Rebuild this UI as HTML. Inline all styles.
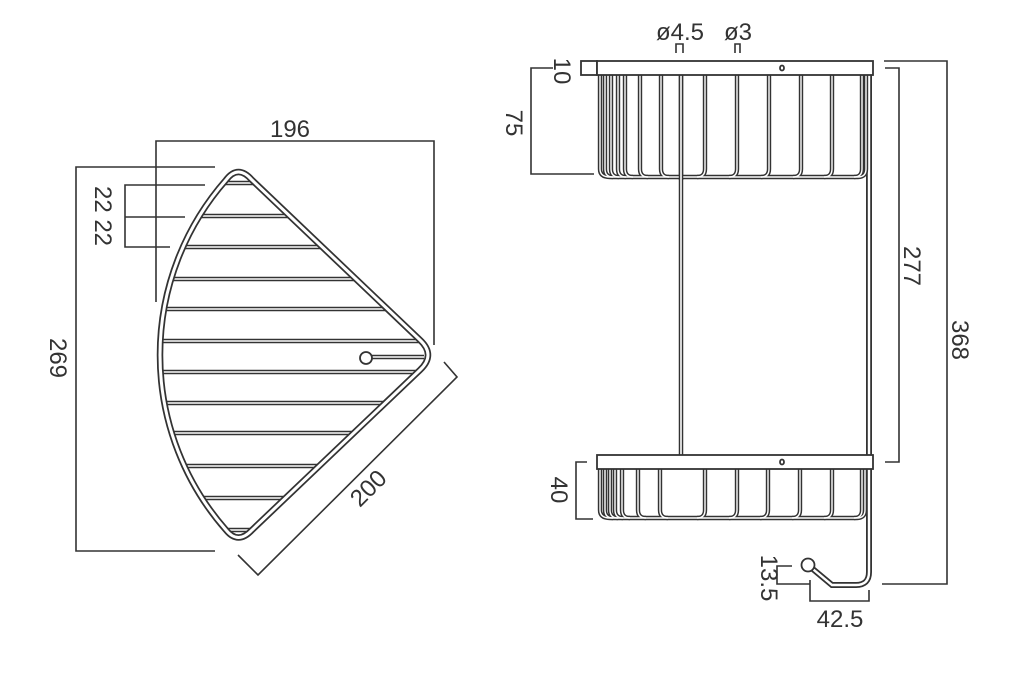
<!DOCTYPE html>
<html><head><meta charset="utf-8"><style>
html,body{margin:0;padding:0;background:#fff;}
svg{display:block;}
text{font-family:"Liberation Sans",sans-serif;font-size:24px;fill:#333;}
</style></head><body>
<svg width="1011" height="674" viewBox="0 0 1011 674" xmlns="http://www.w3.org/2000/svg">
<defs>
<clipPath id="cp"><path d="M226,180 Q238,164 252,180 L420,340 Q436,355 420,370 L252,530 Q238,545 226,530 A265 265 0 0 1 226,180 Z"/></clipPath>
</defs>
<g fill="none" stroke="#333" stroke-width="1.6">
<polyline points="156,302 156,141 434,141 434,345"/>
<polyline points="215,167 76,167 76,551 215,551"/>
<polyline points="205,185 125,185 125,247 170,247"/>
<line x1="125" y1="217" x2="185" y2="217"/>
<polyline points="444,362 457,377 258,575 238,555"/>
</g>
<text x="290" y="137" text-anchor="middle">196</text>
<text transform="translate(50,358) rotate(90)" text-anchor="middle">269</text>
<text transform="translate(95,216) rotate(90)" text-anchor="middle">22 22</text>
<text transform="translate(374,494) rotate(-45)" text-anchor="middle">200</text>

<g clip-path="url(#cp)">
<g stroke="#333" stroke-width="4.5">
<line x1="140" x2="450" y1="183" y2="183"/><line x1="140" x2="450" y1="216" y2="216"/>
<line x1="140" x2="450" y1="247" y2="247"/><line x1="140" x2="450" y1="279" y2="279"/>
<line x1="140" x2="450" y1="309" y2="309"/><line x1="140" x2="450" y1="341" y2="341"/>
<line x1="140" x2="450" y1="372" y2="372"/><line x1="140" x2="450" y1="403" y2="403"/>
<line x1="140" x2="450" y1="433" y2="433"/><line x1="140" x2="450" y1="466" y2="466"/>
<line x1="140" x2="450" y1="498" y2="498"/><line x1="140" x2="450" y1="530" y2="530"/>
</g>
<g stroke="#fff" stroke-width="1.6">
<line x1="140" x2="450" y1="183" y2="183"/><line x1="140" x2="450" y1="216" y2="216"/>
<line x1="140" x2="450" y1="247" y2="247"/><line x1="140" x2="450" y1="279" y2="279"/>
<line x1="140" x2="450" y1="309" y2="309"/><line x1="140" x2="450" y1="341" y2="341"/>
<line x1="140" x2="450" y1="372" y2="372"/><line x1="140" x2="450" y1="403" y2="403"/>
<line x1="140" x2="450" y1="433" y2="433"/><line x1="140" x2="450" y1="466" y2="466"/>
<line x1="140" x2="450" y1="498" y2="498"/><line x1="140" x2="450" y1="530" y2="530"/>
</g>
</g>
<path d="M226,180 Q238,164 252,180 L420,340 Q436,355 420,370 L252,530 Q238,545 226,530 A265 265 0 0 1 226,180 Z" fill="none" stroke="#333" stroke-width="6.5"/>
<path d="M226,180 Q238,164 252,180 L420,340 Q436,355 420,370 L252,530 Q238,545 226,530 A265 265 0 0 1 226,180 Z" fill="none" stroke="#fff" stroke-width="3"/>
<line x1="366" y1="357" x2="424" y2="357" stroke="#333" stroke-width="4.5"/>
<line x1="366" y1="357" x2="424" y2="357" stroke="#fff" stroke-width="1.6"/>
<circle cx="366" cy="358" r="6" fill="#fff" stroke="#333" stroke-width="1.8"/>

<g fill="none">
<path d="M681,75 V455" stroke="#333" stroke-width="4.5"/>
<path d="M681,75 V455" stroke="#fff" stroke-width="1.6"/>
<path d="M869,61 V572 Q869,585 856,585 H832 L808,565" stroke="#333" stroke-width="6"/>
<path d="M869,61 V572 Q869,585 856,585 H832 L808,565" stroke="#fff" stroke-width="2.4"/>
</g>
<circle cx="808" cy="565" r="6.5" fill="#fff" stroke="#333" stroke-width="1.8"/>

<g fill="none" stroke="#333" stroke-width="4.4">
<path d="M600,75 V169 Q600,177 610,177 H858 Q866,177 866,169 V75"/>
<path d="M605,75 V169 Q605,177 613,177"/>
<path d="M611,75 V169 Q611,177 619,177"/>
<path d="M618,75 V169 Q618,177 626,177"/>
<path d="M625,75 V169 Q625,177 633,177"/>
<path d="M640,75 V169 Q640,177 648,177"/>
<path d="M661,75 V169 Q661,177 669,177"/>
<path d="M705,75 V169 Q705,177 697,177"/>
<path d="M737,75 V169 Q737,177 729,177"/>
<path d="M769,75 V169 Q769,177 761,177"/>
<path d="M801,75 V169 Q801,177 793,177"/>
<path d="M832,75 V169 Q832,177 824,177"/>
<path d="M862,75 V169 Q862,177 854,177"/>
</g>
<g fill="none" stroke="#fff" stroke-width="1.4">
<path d="M600,75 V169 Q600,177 610,177 H858 Q866,177 866,169 V75"/>
<path d="M605,75 V169 Q605,177 613,177"/>
<path d="M611,75 V169 Q611,177 619,177"/>
<path d="M618,75 V169 Q618,177 626,177"/>
<path d="M625,75 V169 Q625,177 633,177"/>
<path d="M640,75 V169 Q640,177 648,177"/>
<path d="M661,75 V169 Q661,177 669,177"/>
<path d="M705,75 V169 Q705,177 697,177"/>
<path d="M737,75 V169 Q737,177 729,177"/>
<path d="M769,75 V169 Q769,177 761,177"/>
<path d="M801,75 V169 Q801,177 793,177"/>
<path d="M832,75 V169 Q832,177 824,177"/>
<path d="M862,75 V169 Q862,177 854,177"/>
</g>
<path d="M681,75 V180" stroke="#333" stroke-width="4.5"/><path d="M681,75 V180" stroke="#fff" stroke-width="1.6"/>
<g fill="none" stroke="#333" stroke-width="4.4">
<path d="M600,469 V510 Q600,518 610,518 H857 Q865,518 865,510 V469"/>
<path d="M605,469 V510 Q605,518 613,518"/>
<path d="M610,469 V510 Q610,518 618,518"/>
<path d="M615,469 V510 Q615,518 623,518"/>
<path d="M622,469 V510 Q622,518 630,518"/>
<path d="M638,469 V510 Q638,518 646,518"/>
<path d="M660,469 V510 Q660,518 668,518"/>
<path d="M705,469 V510 Q705,518 697,518"/>
<path d="M737,469 V510 Q737,518 729,518"/>
<path d="M768,469 V510 Q768,518 760,518"/>
<path d="M800,469 V510 Q800,518 792,518"/>
<path d="M832,469 V510 Q832,518 824,518"/>
<path d="M862,469 V510 Q862,518 854,518"/>
</g>
<g fill="none" stroke="#fff" stroke-width="1.4">
<path d="M600,469 V510 Q600,518 610,518 H857 Q865,518 865,510 V469"/>
<path d="M605,469 V510 Q605,518 613,518"/>
<path d="M610,469 V510 Q610,518 618,518"/>
<path d="M615,469 V510 Q615,518 623,518"/>
<path d="M622,469 V510 Q622,518 630,518"/>
<path d="M638,469 V510 Q638,518 646,518"/>
<path d="M660,469 V510 Q660,518 668,518"/>
<path d="M705,469 V510 Q705,518 697,518"/>
<path d="M737,469 V510 Q737,518 729,518"/>
<path d="M768,469 V510 Q768,518 760,518"/>
<path d="M800,469 V510 Q800,518 792,518"/>
<path d="M832,469 V510 Q832,518 824,518"/>
<path d="M862,469 V510 Q862,518 854,518"/>
</g>
<g fill="#fff" stroke="#333" stroke-width="1.8">
<rect x="581" y="61" width="16" height="14"/>
<rect x="597" y="61" width="276" height="14"/>
<rect x="597" y="455" width="276" height="14"/>
<ellipse cx="782" cy="68" rx="2" ry="2.5"/>
<ellipse cx="782" cy="462" rx="2" ry="2.5"/>
</g>
<g fill="none" stroke="#333" stroke-width="1.6">
<polyline points="885,68 899,68 899,462 885,462"/>
<polyline points="884,61 947,61 947,584 882,584"/>
<polyline points="553,68 531,68 531,174 594,174"/>
<polyline points="587,462 576,462 576,519 593,519"/>
<polyline points="676,53 676,44 683,44 683,53"/>
<polyline points="735,53 735,44 740,44 740,53"/>
<polyline points="792,566 777,566 777,584 810,584"/>
<polyline points="810,580 810,601 869,601 869,590"/>
</g>
<text x="680" y="40" text-anchor="middle">ø4.5</text>
<text x="738" y="40" text-anchor="middle">ø3</text>
<text transform="translate(554,71) rotate(90)" text-anchor="middle">10</text>
<text transform="translate(506,123) rotate(90)" text-anchor="middle">75</text>
<text transform="translate(551,490) rotate(90)" text-anchor="middle">40</text>
<text transform="translate(904,266) rotate(90)" text-anchor="middle">277</text>
<text transform="translate(952,340) rotate(90)" text-anchor="middle">368</text>
<text transform="translate(761,578) rotate(90)" text-anchor="middle">13.5</text>
<text x="840" y="627" text-anchor="middle">42.5</text>
</svg>
</body></html>
